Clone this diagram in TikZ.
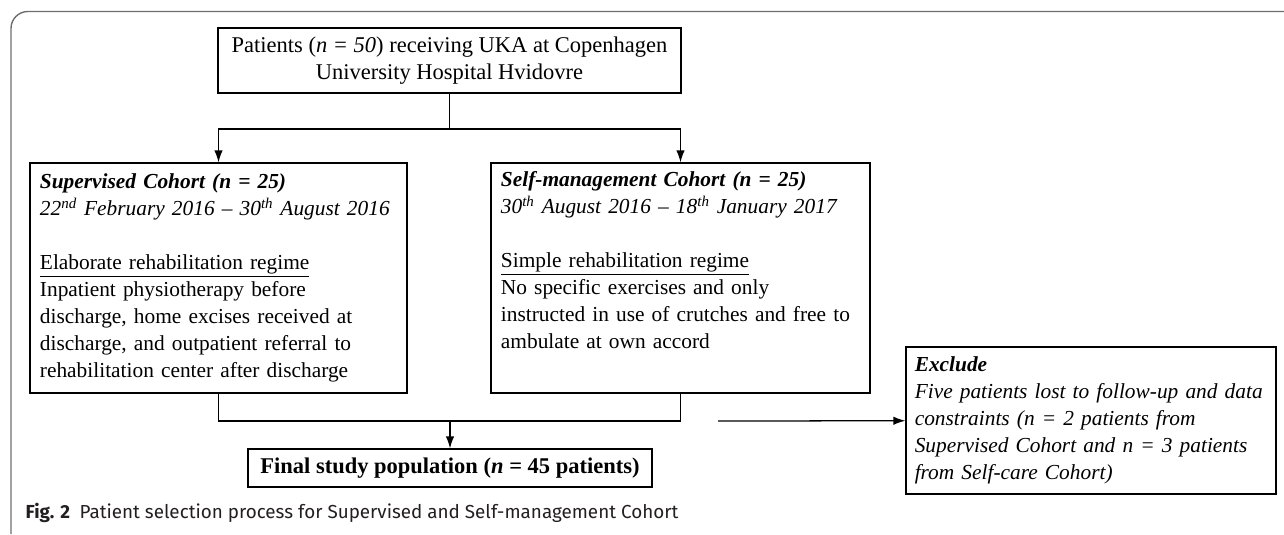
\documentclass[tikz,border=0pt]{standalone}
\usepackage{fontspec}
\setmainfont{Liberation Serif}
\newfontfamily\capfont{Fira Sans}
\usetikzlibrary{positioning,arrows.meta}
\definecolor{framegray}{RGB}{110,110,110}
\definecolor{capgray}{RGB}{35,31,32}
\tikzset{
	block/.style  = {draw, fill=white, rectangle, line width=0.9pt, font=\fontsize{16}{19.2}\selectfont},
	cohort/.style = {block, align=left, inner xsep=0.25cm, minimum height=5.75cm, font=\fontsize{15.2}{19.2}\selectfont},
	hidden/.style = {coordinate},
}
\begin{document}
\begin{tikzpicture}[x=0.025cm, y=-0.025cm, >={Latex[length=8.5pt,width=6pt]}, line width=0.9pt]
	\useasboundingbox (0,0) rectangle (1284,534);
	% figure frame
	\draw[framegray, line width=1pt, rounded corners=12] (11,534) -- (11,11.5) -- (1284,11.5);
	
	% Draw the flow chart boxes
	\node[block, align=center, minimum width=11.575cm, minimum height=1.625cm] (patients) at (449.5,60.5)
		{Patients (\textit{n = 50}) receiving UKA at Copenhagen\\University Hospital Hvidovre};
	\node[cohort, minimum width=9.425cm, text width=8.925cm] (supervised) at (218.5,278)
		{\textbf{\textit{Supervised Cohort (n = 25)}}\\
		\textit{22\textsuperscript{nd} February 2016 -- 30\textsuperscript{th} August 2016}\\[19.2pt]
		\underline{Elaborate rehabilitation regime}\\
		Inpatient physiotherapy before\\
		discharge, home excises received at\\
		discharge, and outpatient referral to\\
		rehabilitation center after discharge};
	\node[cohort, minimum width=9.475cm, text width=8.975cm] (selfmgmt) at (680.5,278)
		{\textbf{\textit{Self-management Cohort (n = 25)}}\\
		\textit{30\textsuperscript{th} August 2016 -- 18\textsuperscript{th} January 2017}\\[19.2pt]
		\underline{Simple rehabilitation regime}\\
		No specific exercises and only\\
		instructed in use of crutches and free to\\
		ambulate at own accord\\
		\strut};
	\node[block, minimum width=10.1cm, minimum height=0.95cm] (final) at (450,468)
		{\textbf{Final study population (\textit{n} = 45 patients)}};
	\node[block, align=left, inner xsep=0.22cm, minimum width=9.25cm, minimum height=3.675cm, text width=8.81cm,
		font=\fontsize{15.2}{19.2}\selectfont] (exclude) at (1091,420.5)
		{\textbf{\textit{Exclude}}\\
		\textit{Five patients lost to follow-up and data}\\
		\textit{constraints (n = 2 patients from}\\
		\textit{Supervised Cohort and n = 3 patients}\\
		\textit{from Self-care Cohort)}};
	
	% helper points
	\coordinate (split) at (449.5,129);
	\coordinate (merge) at (450,421);
	\coordinate (exclstart) at (718,421);
	
	% Connect everything together
	\draw (patients) -- (split);
	\draw[->] (split) -| (supervised);
	\draw[->] (split) -| (selfmgmt);
	\draw (supervised) |- (merge);
	\draw (selfmgmt) |- (merge);
	\draw[->] (merge) -- (final);
	\draw[->] (exclstart) -- (exclude);
	
	% caption
	\node[anchor=west, inner sep=0pt, text=capgray, font=\capfont\fontsize{13.4}{15}\selectfont] (caption) at (25,513)
		{\textbf{Fig. 2}\hspace{0.5em}Patient selection process for Supervised and Self-management Cohort};
\end{tikzpicture}
\end{document}
